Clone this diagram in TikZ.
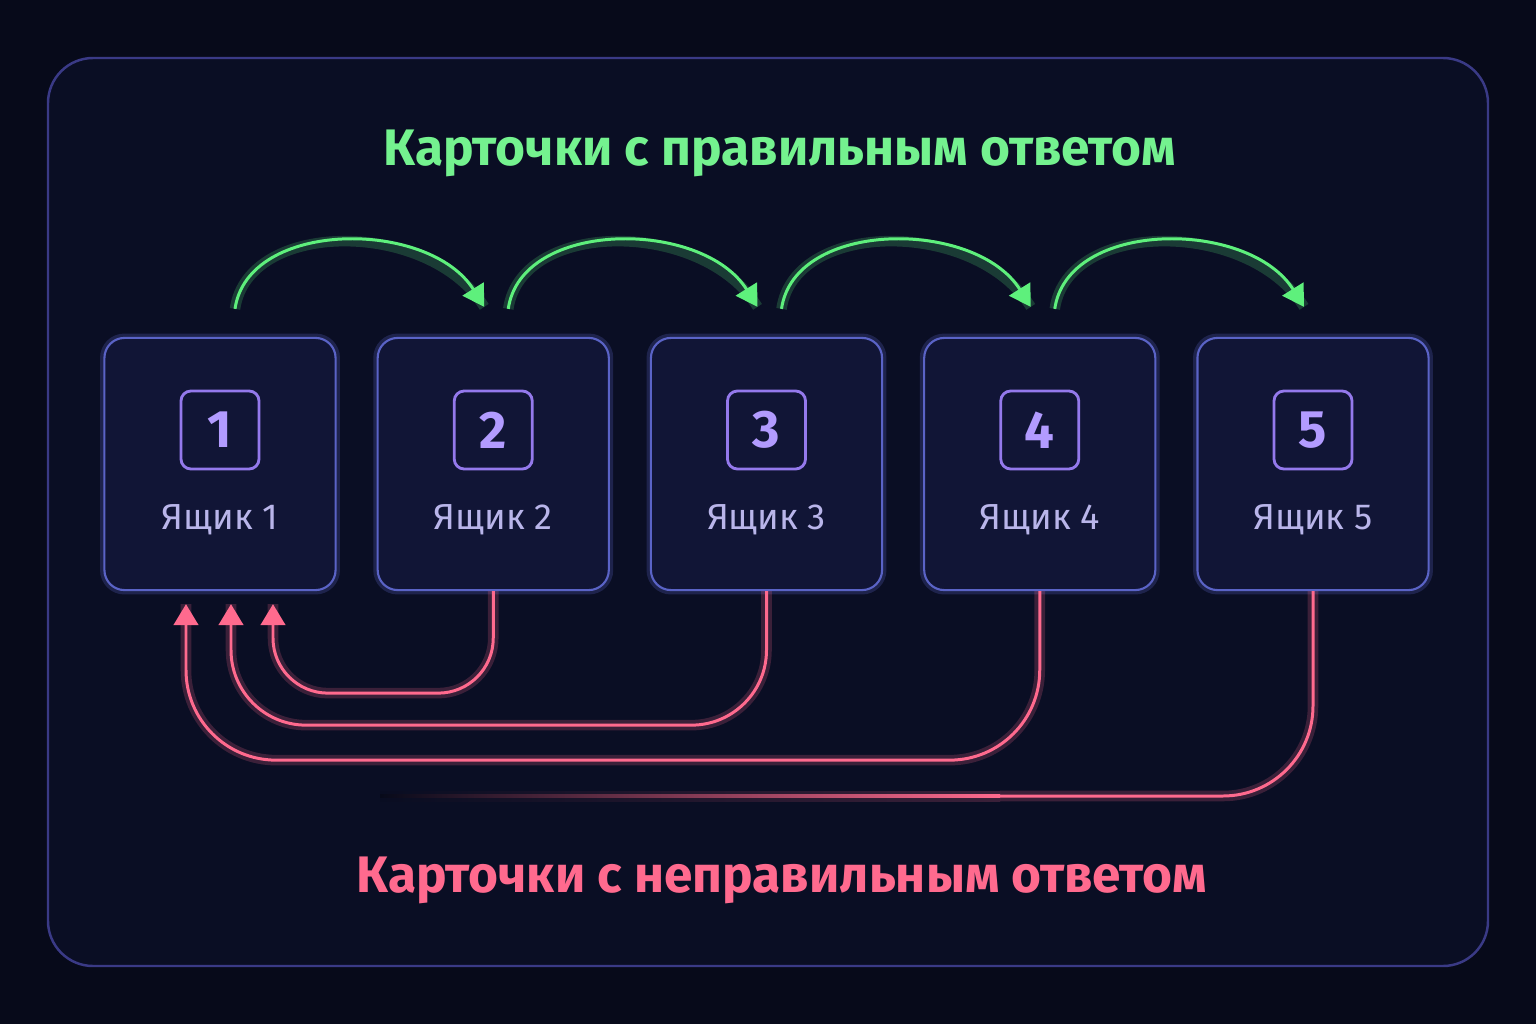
\documentclass[tikz,border=0pt]{standalone}
\usepackage{fontspec}
\setmainfont{Fira Sans}
\usetikzlibrary{calc,arrows.meta}
\definecolor{bgcol}{HTML}{070A1A}
\definecolor{panelcol}{HTML}{0A0E24}
\definecolor{panelline}{HTML}{3A3A86}
\definecolor{boxfill}{HTML}{111536}
\definecolor{boxline}{HTML}{5A63C6}
\definecolor{numline}{HTML}{9479EC}
\definecolor{numtext}{HTML}{B29BFF}
\definecolor{labeltext}{HTML}{B9B5EA}
\definecolor{okgreen}{HTML}{5EF07C}
\definecolor{okgreentext}{HTML}{74F28F}
\definecolor{badred}{HTML}{FF6A8E}
\begin{document}
\begin{tikzpicture}[x=0.01cm,y=-0.01cm,
  panel/.style={draw=panelline,fill=panelcol,line width=0.7pt,rounded corners=0.45cm},
  box/.style={draw=boxline,fill=boxfill,line width=0.6pt,rounded corners=0.2cm,
    minimum width=2.31cm,minimum height=2.52cm,inner sep=0pt,
    preaction={draw=boxline,opacity=0.25,line width=2.5pt}},
  numbox/.style={draw=numline,line width=0.8pt,rounded corners=0.1cm,minimum size=0.78cm,
    inner sep=0pt,text=numtext,font=\bfseries\fontsize{15}{18}\selectfont},
  boxlabel/.style={text=labeltext,font=\fontsize{10.3}{12}\selectfont},
  title/.style={font=\bfseries\fontsize{14.6}{17}\selectfont},
  okarrow/.style={draw=okgreen,line width=0.85pt,-{Triangle[length=6pt,width=7pt]},
    preaction={draw=okgreen,opacity=0.2,line width=3pt,arrows=-}},
  badarrow/.style={draw=badred,line width=0.85pt,-{Triangle[length=6pt,width=7pt]},
    preaction={draw=badred,opacity=0.2,line width=3pt,arrows=-}},
  badline/.style={draw=badred,line width=0.85pt,
    preaction={draw=badred,opacity=0.2,line width=3pt}}]
\fill[bgcol] (0,0) rectangle (1536,1024);
\draw[panel] (48,58) rectangle (1488,966);
\node[title,text=okgreentext] (goodtitle) at (780,153) {Карточки с правильным ответом};
\node[title,text=badred] (badtitle) at (782,880) {Карточки с неправильным ответом};
% boxes
\foreach \i in {1,...,5}{
  \node[box] (b\i) at ({220+273.25*(\i-1)},464) {};
  \node[numbox] (n\i) at ({220+273.25*(\i-1)},430) {\i};
  \node[boxlabel] (l\i) at ({220+273.25*(\i-1)},520) {Ящик \i};
}
% correct answers
\foreach \a/\b in {1/2,2/3,3/4,4/5}
  \draw[okarrow] ($(b\a.north)+(15,-28)$) .. controls +(13,-90) and +(-55,-88) .. ($(b\b.north)+(-9,-30)$);
% wrong answers
\draw[badarrow,rounded corners=0.55cm] (b2.south) |- ($(b1.south)+(53,102)$) -- ($(b1.south)+(53,13)$);
\draw[badarrow,rounded corners=0.75cm] (b3.south) |- ($(b1.south)+(11,134)$) -- ($(b1.south)+(11,13)$);
\draw[badarrow,rounded corners=0.9cm] (b4.south) |- ($(b1.south)+(-34,169)$) -- ($(b1.south)+(-34,13)$);
\coordinate (fadeend) at (1000,796);
\draw[badline,rounded corners=0.9cm] (b5.south) |- (fadeend);
\shade[left color=bgcol,right color=badred,opacity=0.2] ($(fadeend)+(-620,-5)$) rectangle ($(fadeend)+(0,5)$);
\shade[left color=bgcol,right color=badred] ($(fadeend)+(-620,-1.5)$) rectangle ($(fadeend)+(0,1.5)$);
\end{tikzpicture}
\end{document}
